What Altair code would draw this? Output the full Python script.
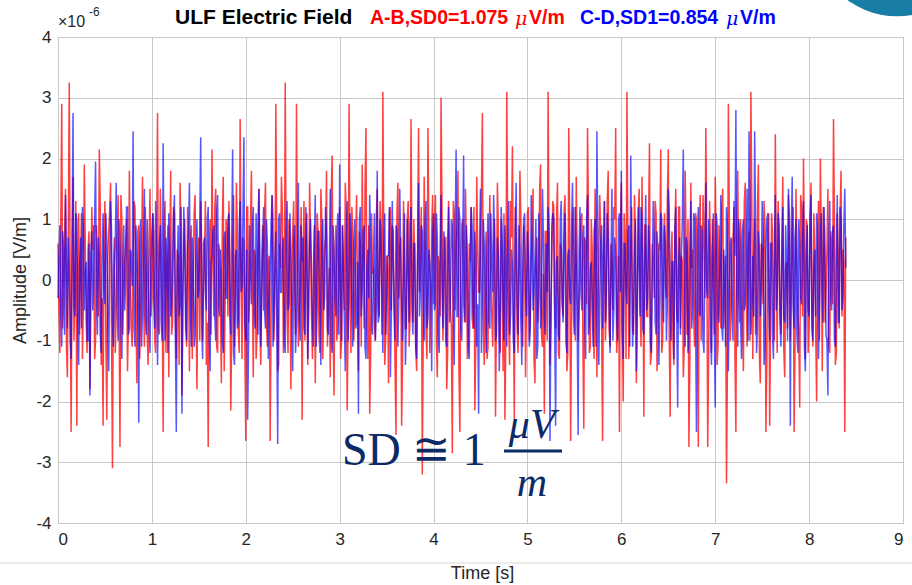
import altair as alt
import pandas as pd

# ---- data (amplitude in units of 1e-6 V/m) ----
# two interleaved sample sets per channel: "a" at k/50 s, "b" half a step later
sample_rate = 50
red_a = [
    0.6, -1.2, 2.9, -0.4, 1.5, -1.6, 3.25, -2.5, 1.7, -0.3,
    -2.4, 1.1, 0.3, -1.3, 1.9, -0.7, 0.5, -1.8, 1.2, 0.9,
    -1.0, 0.4, 2.15, -1.4, -2.4, 1.3, -2.3, 0.8, 1.6, -3.1,
    0.7, -0.5, 1.4, -2.75, 1.0, -0.2, 0.6, -1.5, 1.8, -0.8,
    0.3, 1.2, -1.7, 0.9, -0.6, 1.7, -1.1, 0.2, -1.4, 1.5,
    -0.3, 0.8, -1.2, 2.75, -0.9, 0.5, -2.5, 1.3, 0.1, -1.6,
    1.8, -0.7, 1.1, -1.3, 0.4, 1.6, -1.9, 0.6, -0.4, 1.2,
    -1.5, 0.9, -0.2, 1.4, -1.8, 0.7, 1.3, -1.0, 0.3, -1.4,
    -2.75, 1.0, 2.15, -0.6, 1.5, -1.2, 0.5, -1.7, 1.7, -0.4,
    0.8, 1.3, -2.15, 0.2, -1.1, 1.6, -0.8, 2.65, -1.3, 0.6,
    -2.65, 1.2, -0.3, 1.8, -1.6, 0.4, -0.9, 1.5, -1.4, 0.9,
    1.1, -0.7, 0.3, -2.65, 1.4, -1.0, 2.9, -1.5, 0.6, 1.7,
    -1.2, 3.25, -0.5, 1.0, -1.8, 0.8, -0.2, 2.9, -1.1, 0.4,
    -2.3, 1.3, 0.7, -1.4, 1.6, -0.6, 0.2, -1.7, 1.1, -0.9,
    1.5, -1.3, 0.5, 1.8, -0.4, -1.6, 2.05, -1.9, 0.9, -0.7,
    1.2, -1.0, 0.3, 1.6, -2.15, 2.9, -1.2, 0.7, -0.5, 1.4,
    -1.5, 0.6, 1.9, -0.8, 2.5, -1.3, -2.2, 1.1, 0.2, -1.0,
    1.5, -0.6, 0.8, 3.1, -1.4, 0.4, -1.7, 1.2, 0.9, -0.3,
    -2.55, 1.6, 0.5, -2.4, 1.3, -0.8, 1.0, -1.1, 2.65, -0.7,
    0.3, -1.5, 2.5, 0.6, -3.2, 1.7, -0.9, 2.5, -1.2, 0.8,
    -0.4, 1.4, -1.6, 0.2, 3.0, -1.0, 0.7, -1.8, 1.3, -0.5,
    -2.85, 1.1, 0.4, 1.8, -2.5, 0.9, -0.3, 1.5, -1.3, 0.6,
    1.2, -0.8, -2.15, 1.7, -0.2, 0.5, 2.75, -1.4, 0.8, -1.1,
    1.4, -0.6, 0.3, -2.25, 1.6, -0.9, 1.0, -1.5, -2.3, 3.1,
    -0.7, 1.3, 2.2, -2.3, 0.6, -1.2, 1.8, -0.4, 0.9, -1.6,
    1.1, -1.0, 0.2, 1.5, -1.7, 0.7, -0.3, 1.9, -1.1, -2.2,
    0.8, 3.1, -1.4, 0.4, 1.2, -0.8, 1.6, -1.3, 0.5, -0.6,
    1.4, -1.5, 2.5, -2.65, 0.9, -0.2, 1.7, -1.0, 0.3, 1.1,
    -2.45, 0.6, 2.5, -1.2, 1.0, -0.7, 1.5, -1.6, 0.4, 0.8,
    -2.65, 1.3, -0.5, 1.8, -1.1, 0.2, 1.2, 2.5, -0.9, -2.5,
    1.6, -2.0, 0.7, 3.1, -1.3, 0.5, -0.8, 1.4, -1.7, 1.0,
    -0.4, 1.7, -2.25, 0.9, -0.6, 2.25, -1.2, 0.3, 1.3, -1.5,
    0.6, 2.15, -1.0, 1.1, -0.3, 2.15, -2.25, 0.8, -1.4, 1.5,
    -0.7, 1.2, 0.4, -1.6, 1.8, -0.9, -2.75, 1.6, 0.5, -1.1,
    1.0, -2.75, 1.4, -0.5, 0.7, 2.5, -2.75, 1.3, -1.2, 0.2,
    1.7, -1.4, 0.9, -0.8, 1.5, -0.3, -3.35, 2.9, -1.0, 0.6,
    1.2, -2.5, 1.8, -0.7, 0.4, -1.5, 1.6, -1.1, 0.8, 3.1,
    -1.3, 1.0, -0.6, 1.9, -1.7, 0.5, 1.3, -2.5, 0.7, -2.4,
    1.1, -0.4, 2.4, -1.2, 0.6, -0.9, 1.7, -1.6, 0.3, 1.4,
    -1.0, 0.8, -2.5, 1.5, -0.5, -2.1, 1.2, 2.0, -1.3, 0.9,
    -0.7, 1.6, -1.1, 0.4, -2.0, 1.3, 2.0, -1.5, 0.8, -0.2,
    1.5, -1.2, 0.6, 2.65, -1.4, 1.1, -0.8, 1.8, 0.5, -2.5,
]
red_b = [
    -0.5, 1.0, -0.8, 0.7, -1.1, 0.9, -0.2, 0.4, -1.0, 1.3,
    0.2, -0.9, 1.1, -0.4, 0.6, -1.2, 0.8, -0.1, 0.5, -1.3,
    0.9, -0.6, 1.2, -0.3, 0.7, -1.0, 0.4, 1.1, -0.8, 0.2,
    -1.2, 0.6, -0.4, 1.4, -0.9, 0.3, 1.0, -0.7, 0.1, -1.1,
    1.3, -0.5, 0.8, -1.3, 0.4, -0.2, 1.2, -0.9, 0.6, -0.6,
    1.1, -1.0, 0.3, -0.8, 1.5, -0.4, 0.7, -1.2, 0.9, 0.2,
    -0.9, 1.2, -0.6, 0.5, -1.4, 0.8, -0.3, 1.0, -1.1, 0.4,
    0.7, -1.3, 1.1, -0.5, 0.2, -1.0, 0.6, -0.2, 1.3, -0.7,
    0.5, -0.9, 0.3, 1.2, -1.1, 0.6, -0.4, 0.9, -1.5, 1.0,
    -0.6, 0.4, -1.0, 1.4, -0.3, 0.8, -1.2, 0.2, 0.7, -1.1,
    1.2, -0.7, 0.9, -0.2, 0.5, -1.3, 1.0, -0.8, 0.3, -0.5,
    1.6, -1.1, 0.4, -0.6, 1.0, -0.3, 0.8, -1.4, 0.2, 1.1,
    -0.8, 0.5, -1.2, 0.7, -0.1, 1.3, -0.9, 0.4, -0.6, 1.2,
    0.3, -1.0, 1.1, -0.5, 0.6, -1.3, 0.9, -0.2, 0.8, -1.2,
    1.0, -0.4, 0.7, -1.1, 0.2, 1.4, -0.8, 0.5, -1.0, 0.3,
    -1.3, 0.9, -0.5, 1.1, -0.7, 0.4, 1.2, -1.0, 0.6, -0.2,
    0.8, -1.1, 0.3, 1.5, -0.6, 0.9, -1.2, 0.1, -0.7, 1.0,
    -0.4, 1.3, -0.9, 0.6, -1.0, 0.2, 1.1, -0.5, 0.8, -1.4,
    1.1, -0.3, 0.7, -1.2, 0.4, -0.8, 1.3, -0.6, 0.2, 1.0,
    -1.1, 0.6, -0.2, 1.2, -0.9, 0.5, -1.3, 0.8, -0.4, 1.4,
    0.9, -1.0, 0.4, -0.6, 1.1, -0.3, 0.7, -1.2, 0.5, -0.8,
    1.3, -0.5, 0.9, -1.4, 0.2, 1.0, -0.7, 0.6, -1.1, 0.3,
    -0.6, 1.2, -1.0, 0.5, -0.2, 1.4, -0.8, 0.3, -1.3, 0.7,
    0.1, -1.1, 1.0, -0.5, 0.8, -1.2, 0.4, 1.1, -0.9, 0.6,
    -1.4, 0.7, -0.3, 1.2, -0.8, 0.2, 1.0, -1.1, 0.5, -0.4,
    1.2, -0.6, 0.9, -1.3, 0.3, -0.7, 1.5, -0.9, 0.1, 0.8,
    -1.0, 0.5, -0.7, 1.3, -0.4, 1.0, -1.2, 0.6, -0.3, 1.1,
    0.4, -1.2, 0.8, -0.6, 1.2, -1.0, 0.3, -0.5, 1.0, -0.9,
    0.7, -0.4, 1.1, -1.1, 0.5, -1.3, 0.9, -0.2, 1.4, -0.7,
    0.2, -1.0, 1.3, -0.8, 0.6, -0.5, 1.0, -1.2, 0.4, 0.9,
    -0.7, 1.1, -1.3, 0.5, -0.2, 1.2, -0.9, 0.8, -0.4, 1.5,
    -1.1, 0.3, 0.9, -0.6, 1.0, -1.4, 0.6, -0.3, 1.1, -0.8,
    0.5, -1.2, 0.7, -0.1, 1.3, -0.9, 0.4, -1.0, 0.8, -0.5,
    1.2, -0.8, 0.3, -1.1, 0.6, 1.0, -1.3, 0.2, -0.6, 1.1,
    -0.5, 0.9, -1.0, 1.4, -0.3, 0.7, -1.2, 0.5, 1.0, -0.9,
    0.6, -1.1, 0.2, 1.2, -0.8, 0.4, -1.4, 1.1, -0.5, 0.7,
    -1.2, 0.8, -0.3, 1.0, -0.7, 1.3, -0.2, 0.5, -1.0, 1.2,
    0.4, -0.9, 1.2, -1.2, 0.6, -0.4, 0.9, -1.3, 1.1, -0.6,
    0.8, -1.0, 0.3, 1.3, -0.5, 0.7, -1.1, 0.2, -0.8, 1.0,
    -0.3, 1.2, -1.1, 0.6, -0.9, 1.4, -0.6, 0.4, 1.0, -1.2,
    0.9, -0.5, 1.1, -0.8, 0.3, -1.0, 0.6, 1.2, -0.7, 0.5,
    -1.1, 0.8, -0.4, 0.9, -1.2, 0.5, 1.1, -0.6, 0.3, 0.7,
]
blue_a = [
    -0.3, 0.9, -1.1, 0.5, 1.4, -0.8, 0.2, -1.3, 2.75, -0.6,
    1.0, -1.4, 0.7, 1.2, -0.5, 0.3, -1.0, -1.9, 0.8, -0.2,
    1.95, -0.9, 0.4, -1.2, 1.1, -0.4, 0.6, -1.5, 1.3, -0.7,
    0.2, 1.6, -1.0, 0.5, -1.3, 0.9, -0.1, 1.2, -0.8, 0.4,
    2.45, -1.1, 0.3, -2.35, 1.0, -0.5, 1.5, -0.9, 0.1, -1.2,
    0.8, -0.3, 1.3, -1.4, 0.6, -0.7, 2.25, -1.0, 0.4, 1.1,
    -0.6, 0.2, 1.4, -2.5, 0.9, -0.4, -2.2, 1.2, -0.8, 0.5,
    1.6, -1.1, 0.3, -0.9, 1.0, -0.2, 2.35, -1.3, 0.7, -0.5,
    1.2, -1.5, 0.4, 0.9, -1.0, 1.4, -0.6, 0.1, -1.2, 0.8,
    -0.3, 1.1, -0.9, 2.15, -1.4, 0.5, -0.7, 1.3, -0.1, 2.35,
    -1.0, -2.3, 0.9, -0.4, 1.2, -0.8, 0.3, 1.5, -1.1, 0.6,
    -0.5, 1.0, -1.3, 0.2, 1.4, -0.6, 0.8, -2.7, 1.1, -0.2,
    0.7, -1.2, 1.3, -0.4, 0.5, -1.5, 0.9, -0.7, 1.6, -1.0,
    0.3, -0.8, 1.2, -1.3, 0.6, 0.1, -1.1, 1.4, -0.5, 0.8,
    -1.4, 1.0, -0.3, 0.7, -0.9, 1.5, -1.2, 0.4, -0.6, 1.1,
    1.9, -1.0, 0.2, -1.5, 1.3, -0.4, 0.8, -1.1, 1.0, -0.7,
    -2.2, 1.2, -0.2, 0.9, -1.3, 0.5, 1.4, -0.8, 0.3, -1.0,
    1.8, -0.6, 0.7, -1.2, 1.1, -0.3, 0.4, -1.6, 1.3, -0.5,
    0.9, -1.1, 1.5, -0.4, 0.2, -1.4, 1.0, -0.7, 1.2, -0.9,
    0.6, -1.3, 1.6, -0.2, 0.8, -1.0, 1.3, -0.6, 0.3, -1.5,
    1.1, -0.4, 0.7, -1.2, 1.4, -0.8, 0.5, -1.1, 1.2, -0.3,
    0.9, -1.4, 2.15, -0.6, 1.0, -1.0, 2.05, -0.7, 0.4, -1.3,
    1.2, -0.5, 0.8, -1.1, -2.2, 1.5, -0.3, 0.6, -1.2, 1.1,
    -0.8, 0.3, 1.4, -1.0, 0.7, -1.5, 1.2, -0.4, 0.9, -1.1,
    1.3, -0.6, 0.2, -1.2, 1.6, -0.9, 0.5, -1.4, 1.0, -0.2,
    0.8, -1.1, 1.4, -0.5, 0.3, -1.3, 1.1, -0.8, 1.5, -0.6,
    0.6, 1.2, -2.65, 0.9, 1.0, -2.4, 0.4, -1.0, 1.3, -0.7,
    1.1, -1.2, 0.5, -0.4, 1.6, -0.9, 0.2, -2.55, 1.2, -0.5,
    0.9, -1.3, 1.4, -0.7, 0.3, -1.1, 1.0, 2.45, -1.4, 0.6,
    -0.8, 1.3, -0.2, 0.7, -1.2, 1.5, -0.5, 0.4, -1.0, 1.1,
    1.8, -1.3, 0.6, -0.4, 0.9, 2.05, -1.1, 0.3, -1.5, 1.2,
    -0.6, 1.0, -0.9, 1.4, -0.3, 0.5, -1.2, 1.3, -0.7, 0.8,
    -1.4, 1.1, -0.2, 0.9, -1.0, 1.5, -0.5, 0.3, -1.3, 1.2,
    -2.1, 0.7, 0.4, 2.15, -1.1, 0.6, -0.8, 1.3, -0.4, 1.0,
    -2.5, 1.2, -0.6, 0.8, -1.2, 1.6, -0.3, 0.5, -1.4, 1.1,
    -2.1, 0.9, -0.7, 1.4, -1.0, 0.2, 1.2, -1.5, 0.6, -0.5,
    1.3, 2.8, -1.1, 0.7, -1.3, 1.0, -0.4, 1.5, 2.45, -0.9,
    0.4, 2.45, -1.2, 0.8, -0.6, 1.3, -1.4, 0.5, 1.1, -1.0,
    0.6, -1.3, 1.4, -0.3, 0.9, -1.1, 1.2, -0.7, 0.3, 1.5,
    -2.4, 1.7, -0.8, 1.0, -1.2, 0.6, -0.4, 1.3, -1.5, 0.9,
    -0.6, 1.4, -1.0, 0.5, 1.1, -1.3, 0.8, -0.2, 1.2, -0.9,
    -1.9, 1.3, -0.5, 0.9, -1.1, 1.4, -0.7, 1.0, -0.3, 1.5,
]
blue_b = [
    0.4, -0.6, 0.8, -0.9, 0.3, 0.7, -1.0, 0.5, -0.4, 1.1,
    -0.7, 0.2, -0.8, 0.9, 0.1, -1.0, 0.6, 0.4, -0.5, 1.0,
    -0.3, 0.7, -0.9, 0.4, -0.2, 1.1, -0.6, 0.3, 0.8, -1.1,
    0.6, -0.4, 1.0, -0.7, 0.2, -0.5, 1.2, -0.9, 0.5, -0.1,
    -0.8, 0.9, -0.3, 0.6, -1.1, 0.4, -0.6, 1.0, -0.7, 0.3,
    1.1, -0.8, 0.5, -0.2, 0.9, -1.0, 0.3, 0.7, -1.2, 0.6,
    -0.4, 1.0, -0.9, 0.2, -0.6, 1.2, -0.1, 0.5, -1.0, 0.8,
    -0.5, 0.7, -1.1, 0.4, -0.3, 0.9, -0.7, 0.6, -0.2, 1.0,
    -0.9, 0.3, 0.8, -0.6, 1.1, -0.4, 0.5, -1.0, 0.7, -0.3,
    1.0, -0.5, 0.6, -1.2, 0.4, -0.8, 0.9, -0.2, 1.1, -0.7,
    0.5, -1.0, 0.2, 0.8, -0.6, 1.1, -0.9, 0.4, -0.3, 1.2,
    -0.8, 0.6, -0.4, 0.9, -1.1, 0.3, -0.7, 1.0, -0.2, 0.5,
    -1.0, 0.8, -0.5, 1.1, -0.3, 0.6, -1.2, 0.2, -0.6, 0.9,
    0.7, -0.9, 0.4, -0.2, 1.0, -0.7, 0.5, -1.1, 0.8, -0.4,
    0.6, -0.5, 1.2, -0.8, 0.3, -1.0, 0.9, -0.3, 0.7, -0.9,
    -0.2, 0.9, -0.7, 0.5, -1.0, 1.1, -0.4, 0.6, -0.8, 0.3,
    1.0, -0.6, 0.8, -1.1, 0.2, -0.3, 0.7, -0.9, 1.1, -0.5,
    -0.7, 1.0, -0.2, 0.6, -0.9, 0.4, 1.2, -0.6, 0.3, -1.0,
    0.8, -0.4, 0.5, -1.0, 1.1, -0.7, 0.2, 0.9, -0.5, 0.6,
    -1.1, 0.3, -0.6, 0.9, -0.4, 1.0, -0.8, 0.5, -0.1, 0.7,
    -0.5, 1.1, -0.9, 0.3, -0.2, 0.8, -1.0, 0.6, -0.7, 1.0,
    -0.3, 0.7, -0.6, 1.2, -0.8, 0.4, -0.5, 0.9, -1.1, 0.2,
    0.9, -0.8, 0.3, -0.4, 0.6, -1.2, 1.0, -0.3, 0.5, -0.7,
    1.1, -0.2, 0.7, -0.9, 0.4, -0.6, 0.8, -1.0, 0.3, 0.6,
    -0.9, 0.5, -1.0, 0.8, -0.3, 0.9, -0.7, 0.2, 1.1, -0.6,
    0.4, -0.8, 0.6, -0.2, 1.0, -1.1, 0.5, -0.4, 0.7, -0.9,
    -0.2, 0.8, -0.5, 1.1, -0.7, 0.3, -0.9, 1.0, -0.4, 0.6,
    -1.0, 0.4, -0.3, 0.9, -0.6, 1.2, -0.8, 0.5, -0.2, 0.7,
    -0.6, 1.0, -0.9, 0.2, -0.5, 0.8, -1.1, 0.6, -0.3, 0.9,
    0.5, -0.7, 1.1, -0.4, 0.3, -1.0, 0.7, -0.6, 1.0, -0.2,
    -0.9, 0.6, -0.2, 0.8, -1.1, 0.4, -0.6, 1.0, -0.5, 0.3,
    1.2, -0.8, 0.4, -0.5, 0.9, -1.0, 0.2, 0.7, -0.9, 0.5,
    -0.3, 1.0, -0.7, 0.6, -0.4, 1.1, -1.0, 0.3, 0.8, -0.6,
    0.2, -0.9, 1.0, -0.3, 0.7, -1.2, 0.5, -0.8, 1.1, -0.4,
    0.6, -0.5, 0.9, -1.0, 0.3, -0.2, 1.0, -0.9, 0.4, -0.7,
    1.1, -0.6, 0.3, -0.8, 0.5, -1.1, 0.9, -0.2, 0.7, -1.0,
    0.4, -0.3, 1.0, -0.7, 0.8, -0.5, 0.2, -1.0, 1.1, -0.4,
    -0.6, 0.9, -0.8, 0.5, -0.2, 0.7, -1.1, 1.0, -0.3, 0.6,
    -0.9, 0.4, -0.5, 1.1, -0.7, 0.3, -0.6, 0.9, -1.0, 0.5,
    0.8, -0.4, 0.7, -0.9, 1.0, -0.3, 0.6, -1.1, 0.4, -0.5,
    1.0, -0.8, 0.2, -0.6, 0.9, -0.4, 1.1, -0.7, 0.5, -1.0,
    0.6, -0.3, 0.8, -1.0, 0.4, -0.7, 1.2, -0.5, 0.9, 0.2,
]
x_ticks = [0, 1, 2, 3, 4, 5, 6, 7, 8, 9]
y_ticks = [-4, -3, -2, -1, 0, 1, 2, 3, 4]


def channel(a_vals, b_vals):
    rows = [(i / sample_rate, v) for i, v in enumerate(a_vals)]
    rows += [((i + 0.5) / sample_rate, v) for i, v in enumerate(b_vals)]
    rows.sort()
    return pd.DataFrame(rows, columns=["t", "v"])


red_df = channel(red_a, red_b)
blue_df = channel(blue_a, blue_b)
one = pd.DataFrame({"k": [0]})

W, H = 845, 486
FONT = "Liberation Sans"

x_enc = alt.X(
    "t:Q",
    scale=alt.Scale(domain=[0, 9], nice=False, zero=False),
    axis=alt.Axis(
        values=x_ticks, title="Time [s]", titleX=424, titleY=50,
        titleBaseline="middle", titleAlign="center",
        labelPadding=8, labelExpr="datum.value + ''",
    ),
)
y_enc = alt.Y(
    "v:Q",
    scale=alt.Scale(domain=[-4, 4], nice=False, zero=False),
    axis=alt.Axis(
        values=y_ticks, title="Amplitude [V/m]", titleX=-38, titleY=H / 2,
        titleAngle=-90, titleBaseline="middle", titleAlign="center",
        labelPadding=7, labelExpr="datum.value + ''",
    ),
)

red_line = alt.Chart(red_df).mark_line(color="#ff0000", strokeWidth=1.5, opacity=0.75).encode(x=x_enc, y=y_enc)
blue_line = alt.Chart(blue_df).mark_line(color="#0000ff", strokeWidth=1.5, opacity=0.66).encode(x="t:Q", y="v:Q")


def txt(text, x, y, color="#000000", size=19.5, weight="bold", style="normal",
        font=FONT, align="left", baseline="middle"):
    return alt.Chart(one).mark_text(
        text=text, color=color, fontSize=size, fontWeight=weight, fontStyle=style,
        font=font, align=align, baseline=baseline,
    ).encode(x=alt.value(x), y=alt.value(y))


title_layers = [
    txt("ULF Electric Field", 117, -19, size=21),
    txt("A-B,SD0=1.075", 312, -19, color="#ff0000"),
    txt("\u03bc", 457, -18, color="#ff0000", weight="normal", style="italic", font="DejaVu Serif", size=19),
    txt("V/m", 471, -19, color="#ff0000"),
    txt("C-D,SD1=0.854", 522, -19, color="#0000ff"),
    txt("\u03bc", 668, -18, color="#0000ff", weight="normal", style="italic", font="DejaVu Serif", size=19),
    txt("V/m", 682, -19, color="#0000ff"),
    txt("\u00d710", 0, -15, color="#262626", size=16, weight="normal"),
    txt("-6", 31, -25, color="#262626", size=12, weight="normal"),
]

NAVY = "#0d2a68"
annot_layers = [
    txt("SD \u2245 1", 284, 428, color=NAVY, size=46, weight="normal", font="Liberation Serif", baseline="alphabetic"),
    txt("\u03bcV", 474, 401, color=NAVY, size=42, weight="normal", style="italic", font="Liberation Serif", align="center", baseline="alphabetic"),
    txt("m", 474, 459, color=NAVY, size=42, weight="normal", style="italic", font="Liberation Serif", align="center", baseline="alphabetic"),
    alt.Chart(one).mark_rule(color=NAVY, strokeWidth=3).encode(
        x=alt.value(446), x2=alt.value(504), y=alt.value(414)),
]

deco = [
    alt.Chart(one).mark_circle(color="#187ea6", opacity=1, size=27800).encode(
        x=alt.value(839), y=alt.value(-104)),
    alt.Chart(one).mark_rule(color="#d8d8d8", strokeWidth=1).encode(
        x=alt.value(-58), x2=alt.value(854), y=alt.value(526)),
]

chart = alt.layer(
    red_line, blue_line, *title_layers, *annot_layers, *deco
).properties(
    width=W, height=H,
    background="white",
    autosize=alt.AutoSizeParams(type="none"),
    padding={"left": 58, "top": 37, "right": 9, "bottom": 62},
).configure_axis(
    labelFont=FONT, labelFontSize=17, labelColor="#262626",
    titleFont=FONT, titleFontSize=18, titleFontWeight="normal", titleColor="#262626",
    gridColor="#c8c8c8", gridOpacity=1, gridWidth=1,
    domain=False, ticks=False,
).configure_view(
    stroke="#a6a6a6", strokeWidth=1,
)

chart.save("out.html", embed_options={"renderer": "svg", "actions": False})
